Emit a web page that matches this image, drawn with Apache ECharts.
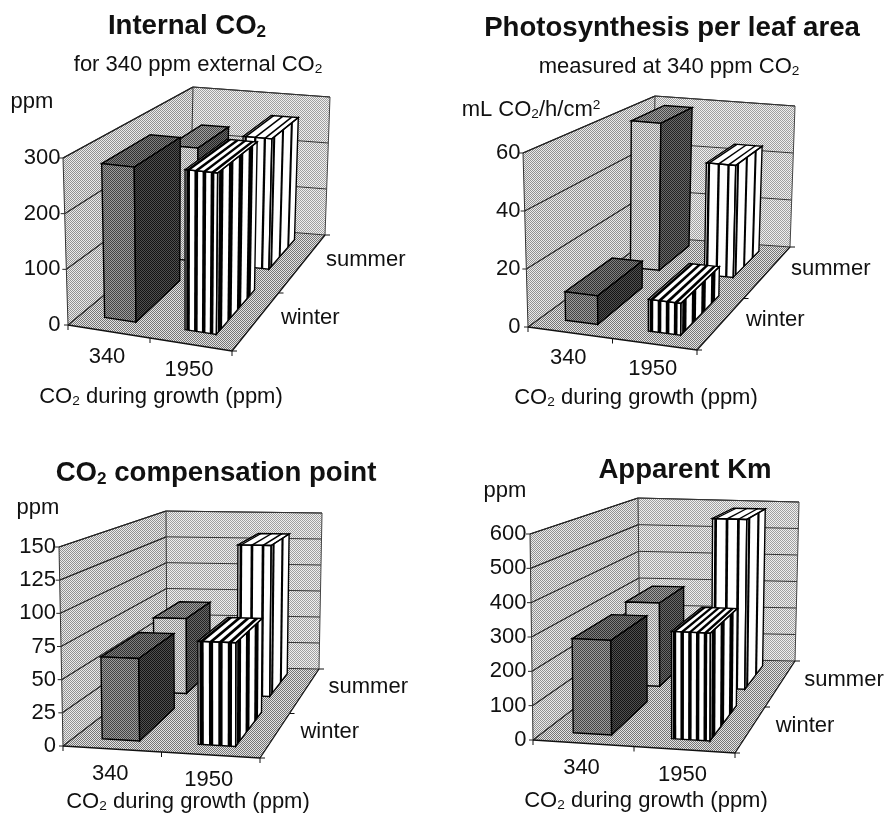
<!DOCTYPE html>
<html>
<head>
<meta charset="utf-8">
<style>
  html, body { margin: 0; padding: 0; background: #fff; }
  #chart { width: 885px; height: 813px; }
</style>
</head>
<body>
<div id="chart"></div>
<script src="https://cdn.jsdelivr.net/npm/echarts@6/dist/echarts.min.js"></script>
<script>
// values
var growthCo2 = ['340', '1950'];
var seasons = ['winter', 'summer'];

var internalWinter = [280, 285];
var internalSummer = [230, 262];
var internalTicks = [0, 100, 200, 300];

var photoWinter = [10, 11];
var photoSummer = [58, 44];
var photoTicks = [0, 20, 40, 60];

var compWinter = [63, 78];
var compSummer = [66, 132];
var compTicks = [0, 25, 50, 75, 100, 125, 150];

var kmWinter = [280, 315];
var kmSummer = [285, 580];
var kmTicks = [0, 100, 200, 300, 400, 500, 600];

var FONT = '"Liberation Sans", Arial, sans-serif';
var TEXT = '#111';
var LABEL_SIZE = 22;
var TITLE_SIZE = 27.6;

// screen corners of each chart box: f = front, b = back, l/r = left/right, 0 = floor, 1 = top
var panels = [
  {
    winter: internalWinter, summer: internalSummer, ticks: internalTicks,
    fl0: [68, 325], fr0: [232, 351], bl0: [190, 224], br0: [325, 235],
    fl1: [63, 158], fr1: [234, 176], bl1: [193, 87], br1: [330, 97]
  },
  {
    winter: photoWinter, summer: photoSummer, ticks: photoTicks,
    fl0: [528, 327], fr0: [697, 350], bl0: [652, 237], br0: [790, 247],
    fl1: [523, 153], fr1: [699, 172], bl1: [655, 96], br1: [795, 106]
  },
  {
    winter: compWinter, summer: compSummer, ticks: compTicks,
    fl0: [63, 746], fr0: [260, 758], bl0: [167, 666], br0: [319, 669],
    fl1: [59, 547], fr1: [261, 552], bl1: [166, 511], br1: [322, 513]
  },
  {
    winter: kmWinter, summer: kmSummer, ticks: kmTicks,
    fl0: [533, 740], fr0: [735, 753], bl0: [640, 658], br0: [795, 661],
    fl1: [530, 534], fr1: [736, 541], bl1: [638, 498], br1: [799, 502]
  }
];

// titles, all placed by centre
var texts = [
  { t: 'Internal CO{s|2}', x: 187, y: 26, bold: true },
  { t: 'for 340 ppm external CO{s|2}', x: 198, y: 65 },
  { t: 'ppm', x: 32, y: 102 },
  { t: 'CO{s|2} during growth (ppm)', x: 161, y: 397 },
  { t: 'Photosynthesis per leaf area', x: 672, y: 28, bold: true },
  { t: 'measured at 340 ppm CO{s|2}', x: 669, y: 67 },
  { t: 'mL CO{s|2}/h/cm{u|2}', x: 531, y: 110 },
  { t: 'CO{s|2} during growth (ppm)', x: 636, y: 398 },
  { t: 'CO{s|2} compensation point', x: 216, y: 473, bold: true },
  { t: 'ppm', x: 38, y: 508 },
  { t: 'CO{s|2} during growth (ppm)', x: 188, y: 802 },
  { t: 'Apparent Km', x: 685, y: 470, bold: true },
  { t: 'ppm', x: 505, y: 491 },
  { t: 'CO{s|2} during growth (ppm)', x: 646, y: 801 }
];

var BAR_WIDTH = 0.39; // share of a category band
var depthRange = { winter: [0.11, 0.5], summer: [0.68, 0.94] };
var depthShift = { winter: -0.008, summer: -0.03 }; // the scan's bars drift left going back

// halftone-ish fill: a pixel checker around a mean grey
function dither(grey, amp) {
  var c = document.createElement('canvas');
  c.width = 2;
  c.height = 2;
  var ctx = c.getContext('2d');
  var hi = Math.min(255, grey + amp);
  var lo = Math.max(0, grey - amp);
  ctx.fillStyle = 'rgb(' + hi + ',' + hi + ',' + hi + ')';
  ctx.fillRect(0, 0, 2, 2);
  ctx.fillStyle = 'rgb(' + lo + ',' + lo + ',' + lo + ')';
  ctx.fillRect(0, 0, 1, 1);
  ctx.fillRect(1, 1, 1, 1);
  return { image: c, repeat: 'repeat' };
}

var fills = {
  leftWall: dither(190, 45),
  backWall: dither(200, 40),
  floor: dither(172, 55),
  winter340: { front: dither(112, 45), top: dither(88, 40), side: dither(50, 30) },
  summer340: { front: dither(186, 45), top: dither(115, 45), side: dither(70, 35) }
};

function mix(a, b, t) {
  return [a[0] + (b[0] - a[0]) * t, a[1] + (b[1] - a[1]) * t];
}

// u along the front edge, v up, w towards the back
function project(p, u, v, w) {
  var f = mix(mix(p.fl0, p.fr0, u), mix(p.fl1, p.fr1, u), v);
  var b = mix(mix(p.bl0, p.br0, u), mix(p.bl1, p.br1, u), v);
  return mix(f, b, w);
}

function poly(points, fill, stroke, lw) {
  return {
    type: 'polygon',
    shape: { points: points },
    style: { fill: fill || 'none', stroke: stroke || null, lineWidth: lw || 0 }
  };
}

function line(a, b, color, lw) {
  return {
    type: 'line',
    shape: { x1: a[0], y1: a[1], x2: b[0], y2: b[1] },
    style: { stroke: color, lineWidth: lw }
  };
}

function label(text, pos) {
  return {
    type: 'text',
    style: {
      text: text, x: pos[0], y: pos[1], fill: TEXT,
      fontSize: LABEL_SIZE, fontFamily: FONT, align: 'center', verticalAlign: 'middle'
    }
  };
}

function vOf(api, sys, value) {
  return (sys.y + sys.height - api.coord([0, value])[1]) / sys.height;
}

// walls, floor, grid lines, ticks and the two sloped category labels
function renderBox(p) {
  return function (params, api) {
    var sys = params.coordSys;
    var kids = [];
    var P = function (u, v, w) { return project(p, u, v, w); };

    kids.push(poly([P(0, 0, 0), P(0, 1, 0), P(0, 1, 1), P(0, 0, 1)], fills.leftWall));
    kids.push(poly([P(0, 0, 1), P(0, 1, 1), P(1, 1, 1), P(1, 0, 1)], fills.backWall));
    kids.push(poly([P(0, 0, 0), P(1, 0, 0), P(1, 0, 1), P(0, 0, 1)], fills.floor));

    p.ticks.forEach(function (t) {
      var v = vOf(api, sys, t);
      kids.push(line(P(0, v, 0), P(0, v, 1), '#222', 1.2));
      kids.push(line(P(0, v, 1), P(1, v, 1), '#333', 1));
      var a = P(0, v, 0);
      kids.push(line(a, [a[0] - 4, a[1]], '#222', 1));
    });

    kids.push(line(P(0, 0, 0), P(0, 1, 0), '#333', 1));
    kids.push(line(P(0, 1, 0), P(0, 1, 1), '#222', 1.2));
    kids.push(line(P(0, 1, 1), P(0, 0, 1), '#333', 1));
    kids.push(line(P(0, 1, 1), P(1, 1, 1), '#333', 1));
    kids.push(line(P(1, 1, 1), P(1, 0, 1), '#444', 1));
    kids.push(line(P(0, 0, 0), P(1, 0, 0), '#111', 1.3));
    kids.push(line(P(1, 0, 0), P(1, 0, 1), '#111', 1.3));

    [0, 0.5, 1].forEach(function (t) {
      var a = P(t, 0, 0);
      kids.push(line(a, [a[0], a[1] + 5], '#111', 1));
      var b = P(1, 0, t);
      kids.push(line(b, [b[0] + 5, b[1]], '#111', 1));
    });

    growthCo2.forEach(function (c, i) {
      var a = P((i + 0.5) / growthCo2.length, 0, 0);
      kids.push(label(c, [a[0] - 2, a[1] + 25]));
    });
    seasons.forEach(function (s, i) {
      var a = P(1, 0, (i + 0.5) / seasons.length);
      kids.push(label(s, [a[0] + (i ? 64 : 55), a[1] - 4]));
    });

    return { type: 'group', silent: true, children: kids };
  };
}

// black strips across a face, a(t) and b(t) are the two long edges
function stripes(a, b, width, period, blackShare) {
  var n = Math.max(1, Math.round(width / period));
  var out = [];
  for (var i = 0; i < n; i++) {
    var t0 = (i + 0.15) / n;
    var t1 = t0 + blackShare / n;
    out.push(poly([a(t0), a(t1), b(t1), b(t0)], '#000'));
  }
  return out;
}

function renderBar(p, season) {
  var range = depthRange[season];
  var hatchShare = season === 'winter' ? 0.45 : 0.24;
  return function (params, api) {
    var sys = params.coordSys;
    var cat = api.value(0);
    var band = api.size([1, 0])[0];
    var cx = api.coord([cat, 0])[0];
    var u0 = (cx - band * BAR_WIDTH / 2 - sys.x) / sys.width + depthShift[season];
    var u1 = u0 + band * BAR_WIDTH / sys.width;
    var v = (sys.y + sys.height - api.coord([cat, api.value(1)])[1]) / sys.height;
    var w0 = range[0];
    var w1 = range[1];
    var P = function (u, vv, w) { return project(p, u, vv, w); };

    var front = [P(u0, 0, w0), P(u1, 0, w0), P(u1, v, w0), P(u0, v, w0)];
    var side = [P(u1, 0, w0), P(u1, 0, w1), P(u1, v, w1), P(u1, v, w0)];
    var top = [P(u0, v, w0), P(u1, v, w0), P(u1, v, w1), P(u0, v, w1)];
    var kids = [];

    if (cat === 0) {
      var shade = season === 'winter' ? fills.winter340 : fills.summer340;
      kids.push(poly(top, shade.top, '#000', 1.4));
      kids.push(poly(front, shade.front, '#000', 1.4));
      kids.push(poly(side, shade.side, '#000', 1.4));
    } else {
      kids.push(poly(top, '#fff'));
      kids.push(poly(front, '#fff'));
      kids.push(poly(side, '#fff'));
      var mx = function (a, b) { return function (t) { return a + (b - a) * t; }; };
      var us = mx(u0, u1);
      var ws = mx(w0, w1);
      var fw = front[1][0] - front[0][0];
      var sw = side[1][0] - side[0][0];
      var period = season === 'winter' ? 8.5 : 10;
      kids = kids.concat(stripes(
        function (t) { return P(us(t), v, w0); }, function (t) { return P(us(t), v, w1); }, fw, period, hatchShare));
      kids = kids.concat(stripes(
        function (t) { return P(us(t), 0, w0); }, function (t) { return P(us(t), v, w0); }, fw, period, hatchShare));
      kids = kids.concat(stripes(
        function (t) { return P(u1, 0, ws(t)); }, function (t) { return P(u1, v, ws(t)); }, sw, period, hatchShare));
      kids.push(poly(top, 'none', '#000', 1.4));
      kids.push(poly(front, 'none', '#000', 1.4));
      kids.push(poly(side, 'none', '#000', 1.4));
    }
    return { type: 'group', silent: true, children: kids };
  };
}

var grid = [];
var xAxis = [];
var yAxis = [];
var series = [];

panels.forEach(function (p, i) {
  var ticks = p.ticks;
  var top = p.fl1[1];
  var left = (p.fl0[0] + p.fl1[0]) / 2;
  grid.push({ left: left, top: top, width: p.fr0[0] - left, height: p.fl0[1] - top });
  xAxis.push({ gridIndex: i, type: 'category', data: growthCo2, show: false });
  yAxis.push({
    gridIndex: i,
    type: 'value',
    min: ticks[0],
    max: ticks[ticks.length - 1],
    interval: ticks[1] - ticks[0],
    axisLine: { show: false },
    axisTick: { show: false },
    splitLine: { show: false },
    axisLabel: { fontSize: LABEL_SIZE, fontFamily: FONT, color: TEXT, margin: 5 }
  });
  series.push({
    type: 'custom', xAxisIndex: i, yAxisIndex: i, clip: false,
    data: [[0, 0]], renderItem: renderBox(p)
  });
  ['summer', 'winter'].forEach(function (s) {
    series.push({
      type: 'custom', name: s, xAxisIndex: i, yAxisIndex: i, clip: false,
      data: p[s].map(function (val, c) { return [c, val]; }),
      encode: { x: 0, y: 1 },
      renderItem: renderBar(p, s)
    });
  });
});

var title = texts.map(function (d) {
  var size = d.bold ? TITLE_SIZE : LABEL_SIZE;
  return {
    text: d.t,
    left: d.x,
    top: d.y,
    padding: 0,
    textAlign: 'center',
    textVerticalAlign: 'middle',
    textStyle: {
      fontFamily: FONT,
      fontSize: size,
      fontWeight: d.bold ? 'bold' : 'normal',
      color: TEXT,
      rich: {
        s: { fontFamily: FONT, fontSize: size * 0.62, fontWeight: d.bold ? 'bold' : 'normal', color: TEXT, padding: [size * 0.42, 0, 0, 0] },
        u: { fontFamily: FONT, fontSize: size * 0.62, color: TEXT, padding: [0, 0, size * 0.42, 0] }
      }
    }
  };
});

var chart = echarts.init(document.getElementById('chart'), null, { renderer: 'canvas' });
chart.setOption({
  animation: false,
  backgroundColor: '#fff',
  title: title,
  grid: grid,
  xAxis: xAxis,
  yAxis: yAxis,
  series: series
});
</script>
</body>
</html>
